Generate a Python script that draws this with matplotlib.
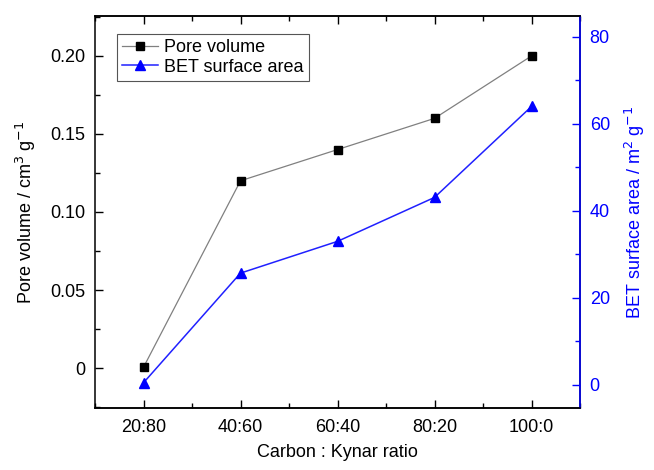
import matplotlib
matplotlib.use('Agg')
from matplotlib import pyplot as plt
from matplotlib.ticker import MultipleLocator, FixedLocator

plt.rcParams['font.family'] = ['Liberation Sans', 'DejaVu Sans']

ratios = ['20:80', '40:60', '60:40', '80:20', '100:0']
pore_volume = [0.0005, 0.12, 0.14, 0.16, 0.20]  # cm3/g
bet_area = [0.5, 25.7, 33.0, 43.1, 64.0]  # m2/g
pore_ticks = [0, 0.05, 0.10, 0.15, 0.20]
pore_tick_labels = ['0', '0.05', '0.10', '0.15', '0.20']

fig = plt.figure(figsize=(6.54, 4.70), dpi=100)
ax = fig.add_axes([95 / 654, 1 - 408 / 470, 485 / 654, 392 / 470])
ax2 = ax.twinx()

x = list(range(len(ratios)))
l1, = ax.plot(x, pore_volume, color='#808080', lw=0.9, marker='s', ms=5.5,
              mfc='black', mec='black', label='Pore volume')
l2, = ax2.plot(x, bet_area, color='#2020ff', lw=1.1, marker='^', ms=7.5,
               mfc='#0000ff', mec='#0000ff', label='BET surface area')

ax.set_xlim(-0.5, 4.5)
ax.set_ylim(-0.0256, 0.2256)
ax2.set_ylim(-5.3, 84.8)

ax.set_xticks(x)
ax.set_xticklabels(ratios)
ax.xaxis.set_minor_locator(FixedLocator([i + 0.5 for i in range(-1, 5)]))
ax.set_yticks(pore_ticks)
ax.set_yticklabels(pore_tick_labels)
ax.yaxis.set_minor_locator(MultipleLocator(0.025))
ax2.yaxis.set_major_locator(MultipleLocator(20))
ax2.yaxis.set_minor_locator(MultipleLocator(10))

ax.tick_params(axis='both', which='both', direction='in', top=True, right=False,
               labelsize=13, width=1)
ax.tick_params(which='major', length=6)
ax.tick_params(which='minor', length=3.5)
ax.tick_params(axis='x', pad=8)
ax.tick_params(axis='y', pad=7)
ax2.tick_params(axis='y', which='both', direction='in', colors='blue',
                labelsize=13, width=1, pad=7)
ax2.tick_params(which='major', length=6)
ax2.tick_params(which='minor', length=3.5)

for s in ax.spines.values():
    s.set_linewidth(1.1)
for s in ax2.spines.values():
    s.set_linewidth(1.1)
ax2.spines['right'].set_color('blue')
ax2.spines['left'].set_visible(False)

ax.set_xlabel('Carbon : Kynar ratio', fontsize=13, labelpad=6)
ax.set_ylabel('Pore volume / cm$^3$ g$^{-1}$', fontsize=13, labelpad=9)
ax2.set_ylabel('BET surface area / m$^2$ g$^{-1}$', fontsize=13, color='blue', labelpad=9)

leg = ax.legend(handles=[l1, l2], loc='upper left', bbox_to_anchor=(0.045, 0.955),
                fontsize=13, fancybox=False, edgecolor='#555555', framealpha=1,
                handlelength=2.0, handletextpad=0.3, borderpad=0.3, labelspacing=0.15,
                borderaxespad=0)
leg.get_frame().set_linewidth(0.8)

fig.savefig('out.png', dpi=100)
